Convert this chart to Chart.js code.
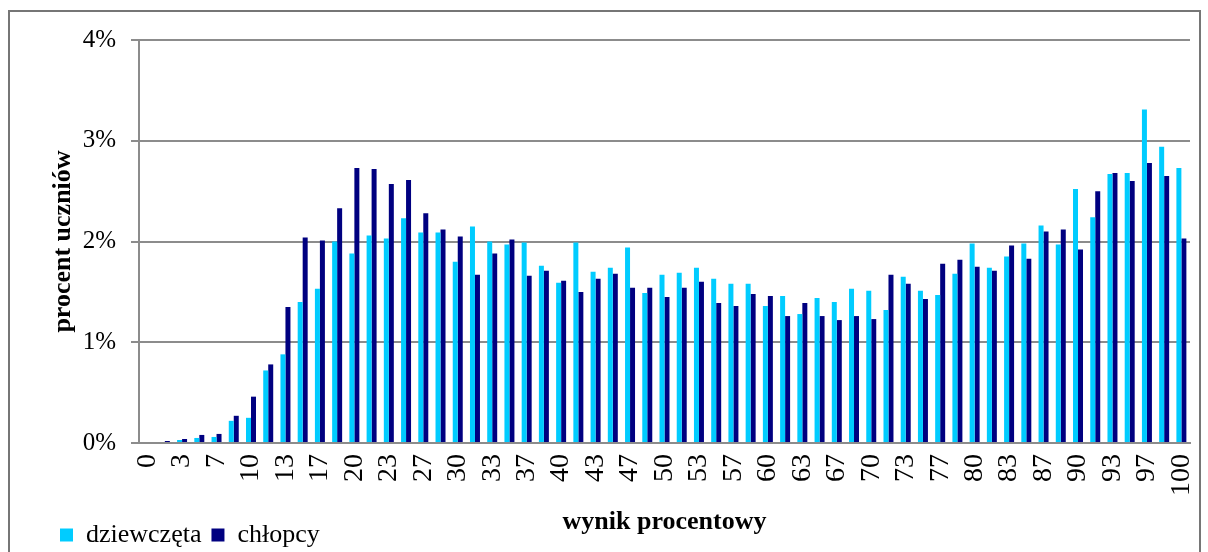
<!DOCTYPE html>
<html>
<head>
<meta charset="utf-8">
<script src="https://cdn.jsdelivr.net/npm/chart.js@4/dist/chart.umd.min.js"></script>
<style>
    body { margin: 0; overflow: hidden; background: #fff; }
    #frame {
        position: absolute; left: 8px; top: 10px;
        width: 1189px; height: 600px;
        border: 2px solid #767676; pointer-events: none;
    }
    #barChart { position: absolute; left: 0; top: 0; }
</style>
</head>
<body>
<div id="frame"></div>
<canvas id="barChart" width="1208" height="570"></canvas>
<script>
// Data for Bar Chart (wynik procentowy, 61 levels)
const scores = [
    0, 2, 3, 5, 7, 8, 10, 12, 13, 15,
    17, 18, 20, 22, 23, 25, 27, 28, 30, 32,
    33, 35, 37, 38, 40, 42, 43, 45, 47, 48,
    50, 52, 53, 55, 57, 58, 60, 62, 63, 65,
    67, 68, 70, 72, 73, 75, 77, 78, 80, 82,
    83, 85, 87, 88, 90, 92, 93, 95, 97, 98,
    100
];

const girls = [
    0, 0, 0.03, 0.05, 0.06, 0.22, 0.25, 0.72, 0.88, 1.40,
    1.53, 2.00, 1.88, 2.06, 2.03, 2.23, 2.09, 2.09, 1.80, 2.15,
    2.00, 1.97, 1.99, 1.76, 1.59, 1.99, 1.70, 1.74, 1.94, 1.49,
    1.67, 1.69, 1.74, 1.63, 1.58, 1.58, 1.36, 1.46, 1.28, 1.44,
    1.40, 1.53, 1.51, 1.32, 1.65, 1.51, 1.47, 1.68, 1.98, 1.74,
    1.85, 1.98, 2.16, 1.97, 2.52, 2.24, 2.67, 2.68, 3.31, 2.94,
    2.73
];

const boys = [
    0, 0.02, 0.04, 0.08, 0.09, 0.27, 0.46, 0.78, 1.35, 2.04,
    2.01, 2.33, 2.73, 2.72, 2.57, 2.61, 2.28, 2.12, 2.05, 1.67,
    1.88, 2.02, 1.66, 1.71, 1.61, 1.50, 1.63, 1.68, 1.54, 1.54,
    1.45, 1.54, 1.60, 1.39, 1.36, 1.48, 1.46, 1.26, 1.39, 1.26,
    1.22, 1.26, 1.23, 1.67, 1.58, 1.43, 1.78, 1.82, 1.75, 1.71,
    1.96, 1.83, 2.10, 2.12, 1.92, 2.50, 2.68, 2.60, 2.78, 2.65,
    2.03
];

const yTicks = ['0%', '1%', '2%', '3%', '4%'];

const serif = "'Liberation Serif', 'Times New Roman', serif";
const gridGray = '#8c8c8c';

const data = {
    labels: scores,
    datasets: [
        {
            label: 'dziewczęta',
            backgroundColor: '#00ccff',
            data: girls
        },
        {
            label: 'chłopcy',
            backgroundColor: '#000080',
            data: boys
        }
    ]
};

const config_bar = {
    type: 'bar',
    data: data,
    options: {
        responsive: false,
        animation: false,
        layout: {
            padding: { left: 50, right: 18, top: 40, bottom: 12 }
        },
        datasets: {
            bar: { categoryPercentage: 0.58, barPercentage: 1.0 }
        },
        scales: {
            x: {
                grid: { display: false, drawTicks: false },
                border: { display: true, color: gridGray, width: 2 },
                ticks: {
                    autoSkip: false,
                    maxRotation: 90,
                    minRotation: 90,
                    padding: 11,
                    color: '#000',
                    font: { family: serif, size: 28 },
                    callback: (val, i) => (i % 2 === 0 ? String(scores[i]) : '')
                },
                title: {
                    display: true,
                    text: 'wynik procentowy',
                    color: '#000',
                    font: { family: serif, size: 26, weight: 'bold' },
                    padding: { top: 0, bottom: -26 }
                },
                afterFit: (scale) => {
                    scale.height = 69;
                    scale.paddingLeft = 0;
                    scale.paddingRight = 0;
                }
            },
            y: {
                min: 0,
                max: 4,
                grid: { color: gridGray, lineWidth: 2, tickLength: 8 },
                border: { display: true, color: gridGray, width: 2 },
                ticks: {
                    stepSize: 1,
                    padding: 15,
                    color: '#000',
                    font: { family: serif, size: 25 },
                    callback: (val) => yTicks[val]
                },
                title: {
                    display: true,
                    text: 'procent uczniów',
                    color: '#000',
                    font: { family: serif, size: 26, weight: 'bold' },
                    padding: { top: -2, bottom: 0 }
                },
                afterFit: (scale) => { scale.width = 89; }
            }
        },
        plugins: {
            legend: {
                position: 'bottom',
                align: 'start',
                labels: {
                    boxWidth: 13,
                    boxHeight: 13,
                    padding: 10,
                    color: '#000',
                    font: { family: serif, size: 26 }
                }
            },
            tooltip: { enabled: false }
        }
    }
};

const myBarChart = new Chart(document.getElementById('barChart'), config_bar);
</script>
</body>
</html>
